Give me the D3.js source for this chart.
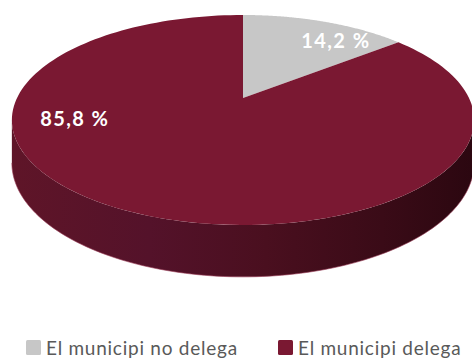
<!DOCTYPE html>
<html>
<head>
<meta charset="utf-8">
<script src="https://cdn.jsdelivr.net/npm/d3@7"></script>
<style>
  html, body { margin: 0; padding: 0; background: #fff; }
  svg { display: block; }
</style>
</head>
<body>
<svg id="chart" width="472" height="360"></svg>
<script>
// Share of municipalities that delegate
const categories = ["El municipi no delega", "El municipi delega"];
const values = [14.2, 85.8];
const labels = ["14,2 %", "85,8 %"];
const colors = ["#c7c7c7", "#7a1832"];

const W = 472, H = 360;
const svg = d3.select("#chart");

// Perspective view of a flat disk: (x, z) on the unit disk, z = +1 at the back.
const cx = 243, cy = 98;        // projected disk centre
const k = 0.2095;               // perspective strength
const a = 100.4, b = 226;       // vertical / horizontal scale
const depth = 41;               // thickness of the disk

function project(phi, r, drop) {
  const x = r * Math.sin(phi), z = r * Math.cos(phi);
  const w = 1 + k * z;
  return [cx + b * x / w, cy - a * z / w + (drop ? depth / w : 0)];
}

const pie = d3.pie().sort(null).value(d => d)
  .startAngle(0).endAngle(2 * Math.PI);
const arcs = pie(values);

const line = d3.line();
function sample(a0, a1, n) {
  return d3.range(n + 1).map(i => a0 + (a1 - a0) * i / n);
}

// Side wall: the front part of the rim, between the two silhouette points
const phiL = Math.PI + Math.acos(k);   // left extreme (cos φ = -k)
const phiR = Math.PI - Math.acos(k);   // right extreme
const defs = svg.append("defs");
const grad = defs.append("linearGradient")
  .attr("id", "side").attr("gradientUnits", "userSpaceOnUse")
  .attr("x1", 10).attr("y1", 0).attr("x2", 475).attr("y2", 0);
[[0, "#5f1528"], [0.3, "#54122a"], [0.55, "#4a0f1f"], [0.8, "#3a0b17"], [1, "#2b0710"]]
  .forEach(([o, c]) => grad.append("stop").attr("offset", o).attr("stop-color", c));

const topEdge = sample(phiR, phiL, 120).map(p => project(p, 1, false));
const botEdge = sample(phiL, phiR, 120).map(p => project(p, 1, true));
svg.append("path")
  .attr("d", line(topEdge.concat(botEdge)) + "Z")
  .attr("fill", "url(#side)");

// thin light rim along the bottom edge
svg.append("path")
  .attr("d", line(botEdge))
  .attr("fill", "none")
  .attr("stroke", "#9a3a55")
  .attr("stroke-width", 1)
  .attr("stroke-opacity", 0.6);

// Top face slices
svg.selectAll("path.slice")
  .data(arcs)
  .join("path")
  .attr("class", "slice")
  .attr("d", d => {
    const pts = [project(0, 0, false)]
      .concat(sample(d.startAngle, d.endAngle, 160).map(p => project(p, 1, false)));
    return line(pts) + "Z";
  })
  .attr("fill", (d, i) => colors[i]);

// Value labels on the top face
const labelPlace = [{ f: 0.69, r: 0.81 }, { f: 0.66, r: 0.74 }];
svg.selectAll("text.val")
  .data(arcs)
  .join("text")
  .attr("class", "val")
  .attr("transform", (d, i) => {
    const p = labelPlace[i];
    const phi = d.startAngle + (d.endAngle - d.startAngle) * p.f;
    const [x, y] = project(phi, p.r, false);
    return `translate(${x},${y})`;
  })
  .attr("text-anchor", "middle")
  .attr("dominant-baseline", "central")
  .attr("font-family", "Lato, 'Open Sans', sans-serif")
  .attr("font-weight", "bold")
  .attr("font-size", 20)
  .attr("letter-spacing", 1.4)
  .attr("fill", "#ffffff")
  .text((d, i) => labels[i]);

// Legend
const legendX = [26, 278];
const legend = svg.selectAll("g.leg")
  .data(categories)
  .join("g")
  .attr("class", "leg")
  .attr("transform", (d, i) => `translate(${legendX[i]},340)`);
legend.append("rect")
  .attr("width", 15).attr("height", 15).attr("y", 0).attr("rx", 1.5)
  .attr("fill", (d, i) => colors[i]);
legend.append("text")
  .attr("x", 20).attr("y", 7.5)
  .attr("dominant-baseline", "central")
  .attr("font-family", "Lato, 'Open Sans', sans-serif")
  .attr("font-size", 19)
  .attr("letter-spacing", 0.75)
  .attr("fill", "#595959")
  .text(d => d);
</script>
</body>
</html>
